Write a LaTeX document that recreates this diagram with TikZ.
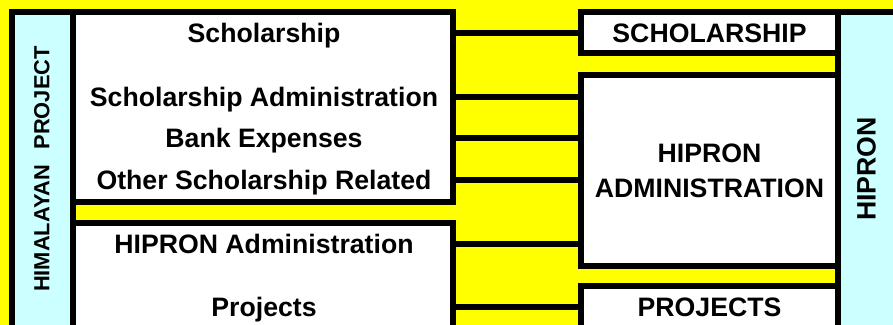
\documentclass[tikz,border=0pt]{standalone}
\usepackage{fontspec}
\setmainfont{Liberation Sans}
\definecolor{chartyellow}{RGB}{255,255,0}
\definecolor{stripcyan}{RGB}{204,255,255}
\tikzset{every picture/.style={line width=0.75pt}}

\begin{document}
\begin{tikzpicture}[x=0.75pt,y=0.75pt,yscale=-1,xscale=1,
	frame/.style={draw, line width=4.5pt, inner sep=0pt},
	itemtext/.style={font=\fontsize{20}{26.25}\selectfont\bfseries, inner sep=0pt, text height=14.3pt, text depth=0pt},
	link/.style={line width=4.5pt}]
	\useasboundingbox (0,0) rectangle (893,325);
	\fill [chartyellow] (0,0) rectangle (893,325);
	
	%Shape: Rectangle [strips]
	\node [frame, fill=stripcyan, minimum width=45.75pt, minimum height=249.75pt] (lstrip) at (42.5,178.5) {};
	\node [frame, fill=stripcyan, minimum width=46.5pt, minimum height=249.75pt] (rstrip) at (869,178.5) {};
	%Shape: Rectangle [left boxes]
	\node [frame, fill=white, minimum width=284.625pt, minimum height=142.5pt] (lboxa) at (262.75,107) {};
	\node [frame, fill=white, minimum width=284.625pt, minimum height=91.5pt] (lboxb) at (262.75,284) {};
	%Shape: Rectangle [right boxes]
	\node [frame, fill=white, minimum width=192.75pt, minimum height=30.75pt, itemtext] (rsch) at (709.5,32.5) {SCHOLARSHIP};
	\node [frame, fill=white, minimum width=192.75pt, minimum height=143.25pt, font=\fontsize{20}{26.25}\selectfont\bfseries, align=center] (radm) at (709.5,170.5) {HIPRON\\ADMINISTRATION};
	\node [frame, fill=white, minimum width=192.75pt, minimum height=44.25pt] (rproj) at (709.5,315.5) {};
	
	% Text Node
	\node [itemtext] (sch) at (264,32.5) {Scholarship};
	% Text Node
	\node [itemtext] (schadm) at (264,96.5) {Scholarship Administration};
	% Text Node
	\node [itemtext] (bank) at (264,138) {Bank Expenses};
	% Text Node
	\node [itemtext] (other) at (264,180) {Other Scholarship Related};
	% Text Node
	\node [itemtext] (hipadm) at (264,243.5) {HIPRON Administration};
	% Text Node
	\node [itemtext] (proj) at (264,306.5) {Projects};
	% Text Node
	\node [itemtext] (projtxt) at (709.5,306.5) {PROJECTS};
	% Text Node
	\node [itemtext, font=\fontsize{16.4}{18}\selectfont\bfseries, text height=11.7pt, rotate=90] (himal) at (41.5,169) {HIMALAYAN\hspace{0.7em}PROJECT};
	% Text Node
	\node [itemtext, rotate=90] (hipron) at (866,169) {HIPRON};
	
	%Straight Lines [links]
	\foreach \src/\dst in {sch/rsch, schadm/radm, bank/radm, other/radm, hipadm/radm, proj/rproj}
		\draw [link] (lboxa.east |- \src) -- (\dst.west |- \src);
	
\end{tikzpicture}
\end{document}
